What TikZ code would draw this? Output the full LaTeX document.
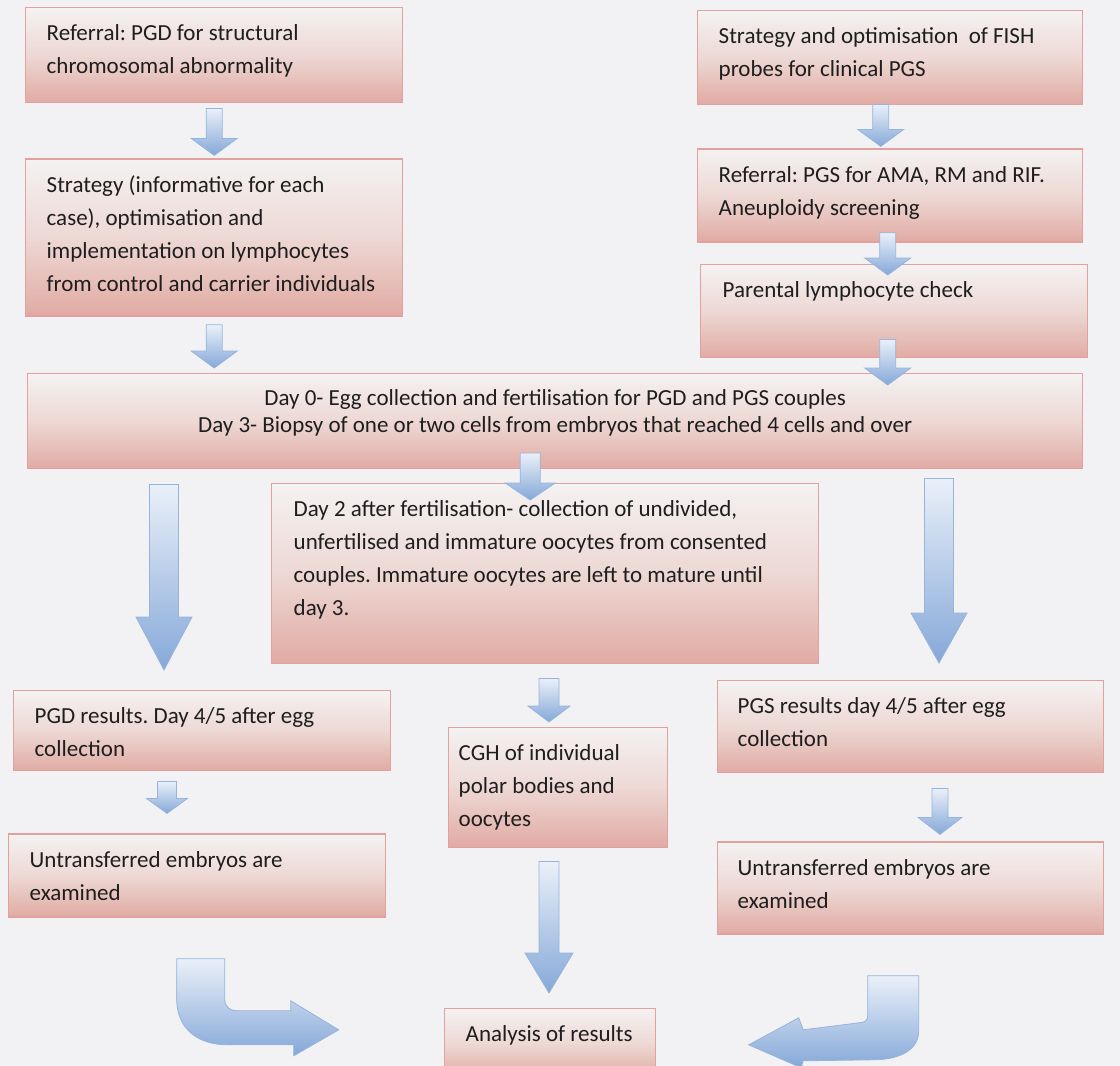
\documentclass[tikz,border=0pt]{standalone}
\usepackage{fontspec}
\setmainfont{Carlito}
\usetikzlibrary{positioning,calc}
\definecolor{pagebg}{RGB}{242,242,244}
\definecolor{boxedge}{RGB}{226,160,158}
\definecolor{boxtop}{RGB}{244,242,242}
\definecolor{boxmid}{RGB}{237,216,212}
\definecolor{boxbottom}{RGB}{225,170,163}
\definecolor{arrowtop}{RGB}{234,240,249}
\definecolor{arrowbottom}{RGB}{133,168,216}
\definecolor{arrowedge}{RGB}{150,180,220}
\definecolor{textgrey}{RGB}{30,30,30}
\newcommand{\stagefont}{\fontsize{11.5}{16.5}\selectfont\frenchspacing}
% text of a box: width, height, lines (left aligned, at the top)
\newcommand{\cardtext}[4][10.5pt]{\vbox to #3{\hsize=#2\raggedright\leftskip=#1\parindent=0pt
  \vskip 5pt\noindent\strut #4\par\vfil}}
\newcommand{\cardcentre}[3]{\vbox to #2{\hsize=#1\centering\baselineskip=13.5pt
  \vskip 8pt\noindent #3\par\vfil}}
% block arrow: top point, tip, half shaft, half head, head length
\newcommand{\flowarrow}[5]{%
  \coordinate (fa-s) at (#1);
  \coordinate (fa-t) at (#2);
  \path[flowfill] ($(fa-s)+(-#3,0)$) -- ($(fa-s)+(#3,0)$) -- ($(fa-t)+(#3,-#5)$)
    -- ($(fa-t)+(#4,-#5)$) -- (fa-t) -- ($(fa-t)+(-#4,-#5)$) -- ($(fa-t)+(-#3,-#5)$) -- cycle;}
\tikzset{
  stage/.style={draw=boxedge, line width=0.7pt, top color=boxtop, bottom color=boxbottom,
    middle color=boxmid, inner sep=0pt, anchor=north west, text=textgrey, font=\stagefont},
  flowfill/.style={top color=arrowtop, bottom color=arrowbottom, draw=arrowedge, line width=0.4pt},
}
\begin{document}
\begin{tikzpicture}[x=0.5pt, y=-0.5pt]
    \useasboundingbox (0,0) rectangle (1120,1066);
    \clip (0,0) rectangle (1120,1066);
    \fill[pagebg] (0,0) rectangle (1120,1066);
    % PGD column
    \node[stage] (refpgd) at (25,7)
        {\cardtext{188.5pt}{47.5pt}{Referral: PGD for structural\\chromosomal abnormality}};
    \node[stage, below=27.5pt of refpgd.south west, anchor=north west] (strategypgd)
        {\cardtext{188.5pt}{78.5pt}{Strategy (informative for each\\case), optimisation and\\implementation on lymphocytes\\from control and carrier individuals}};
    % PGS column
    \node[stage] (fishpgs) at (697,10)
        {\cardtext{192.5pt}{47pt}{Strategy and optimisation\ \ of FISH\\probes for clinical PGS}};
    \node[stage, below=21.5pt of fishpgs.south west, anchor=north west] (refpgs)
        {\cardtext{192.5pt}{46.5pt}{Referral: PGS for AMA, RM and RIF.\\Aneuploidy screening}};
    \node[stage] (lymphcheck) at (700,264)
        {\cardtext[11pt]{193.5pt}{46.5pt}{Parental lymphocyte check}};
    % common steps
    \node[stage] (eggday) at (27,373)
        {\cardcentre{527.5pt}{47.5pt}{Day 0- Egg collection and fertilisation for PGD and PGS couples\\Day 3- Biopsy of one or two cells from embryos that reached 4 cells and over}};
    \node[stage] (oocyteday) at (271,483)
        {\cardtext[11pt]{273.5pt}{90pt}{Day 2 after fertilisation- collection of undivided,\\unfertilised and immature oocytes from consented\\couples. Immature oocytes are left to mature until\\day 3.}};
    % results
    \node[stage] (pgdresult) at (13,690)
        {\cardtext{188.5pt}{40pt}{PGD results. Day 4/5 after egg\\collection}};
    \node[stage, below=31pt of pgdresult.south west, anchor=north west, xshift=-2.5pt] (pgdexam)
        {\cardtext{188.5pt}{41.5pt}{Untransferred embryos are\\examined}};
    \node[stage] (cghpolar) at (448,727)
        {\cardtext[5pt]{109.5pt}{60pt}{CGH of individual\\polar bodies and\\oocytes}};
    \node[stage] (pgsresult) at (717,680)
        {\cardtext[10pt]{193pt}{46pt}{PGS results day 4/5 after egg\\collection}};
    \node[stage, below=34pt of pgsresult.south west, anchor=north west] (pgsexam)
        {\cardtext[10pt]{193pt}{46pt}{Untransferred embryos are\\examined}};
    \node[stage] (analysis) at (444,1008)
        {\cardtext{105.5pt}{35pt}{Analysis of results}};
    % arrows
    \flowarrow{$(refpgd.south)+(0,5)$}{$(refpgd.south |- strategypgd.north)+(0,-3)$}{8}{23}{17}
    \flowarrow{$(strategypgd.south)+(0,8)$}{$(strategypgd.south |- eggday.north)+(0,-5)$}{8}{23}{17}
    \flowarrow{$(fishpgs.south)+(-9.5,-1)$}{$(fishpgs.south |- refpgs.north)+(-9.5,-2)$}{8}{23}{17}
    \flowarrow{$(refpgs.south)+(-2.5,-10)$}{$(refpgs.south |- lymphcheck.north)+(-2.5,11)$}{8}{23}{17}
    \flowarrow{$(lymphcheck.south)+(-6.5,-19)$}{$(lymphcheck.south |- eggday.north)+(-6.5,12)$}{8}{23}{17}
    \flowarrow{$(oocyteday.north)+(-15,-30)$}{$(oocyteday.north)+(-15,17)$}{10}{25}{17}
    \flowarrow{$(pgdresult.north west |- eggday.south)+(151,15)$}{$(pgdresult.north west)+(151,-20)$}{14.5}{28}{53}
    \flowarrow{$(pgsresult.north west |- eggday.south)+(222,9)$}{$(pgsresult.north west)+(222,-17)$}{14.5}{28}{50}
    \flowarrow{$(cghpolar.north west |- oocyteday.south)+(101,14)$}{$(cghpolar.north west)+(101,-5)$}{10}{21}{16}
    \flowarrow{$(cghpolar.south west)+(101,13)$}{$(cghpolar.south west |- analysis.north)+(101,-15)$}{10}{24}{40}
    \flowarrow{$(pgdresult.south west)+(154,10)$}{$(pgdresult.south west |- pgdexam.north)+(154,-20)$}{9.5}{20.5}{15}
    \flowarrow{$(pgsresult.south west)+(223,15)$}{$(pgsresult.south west |- pgsexam.north)+(223,-7)$}{8}{22}{17}
    % turning arrows into the analysis
    \coordinate (pgdturn) at ($(pgdexam.south)+(3.5,41)$);
    \coordinate (pgsturn) at ($(pgsexam.south)+(-17.5,41)$);
    \path[flowfill, shift={(pgdturn)}] (-24,0) -- (-24,40) .. controls (-24,70) and (-3,86) .. (27,86)
        -- (93,86) -- (93,97) -- (138,71) -- (90,42) -- (90,52) -- (37,52)
        .. controls (29,52) and (24,48) .. (24,40) -- (24,0) -- cycle;
    \path[flowfill, shift={(pgsturn)}] (25.5,0) -- (25.5,55) .. controls (25.5,75) and (5,84) .. (-20,84)
        -- (-90,85) -- (-92,92) -- (-144.5,69) -- (-94.5,42) -- (-90,54) -- (-34,47)
        .. controls (-28,47) and (-25.5,44) .. (-25.5,40) -- (-25.5,0) -- cycle;
\end{tikzpicture}
\end{document}
